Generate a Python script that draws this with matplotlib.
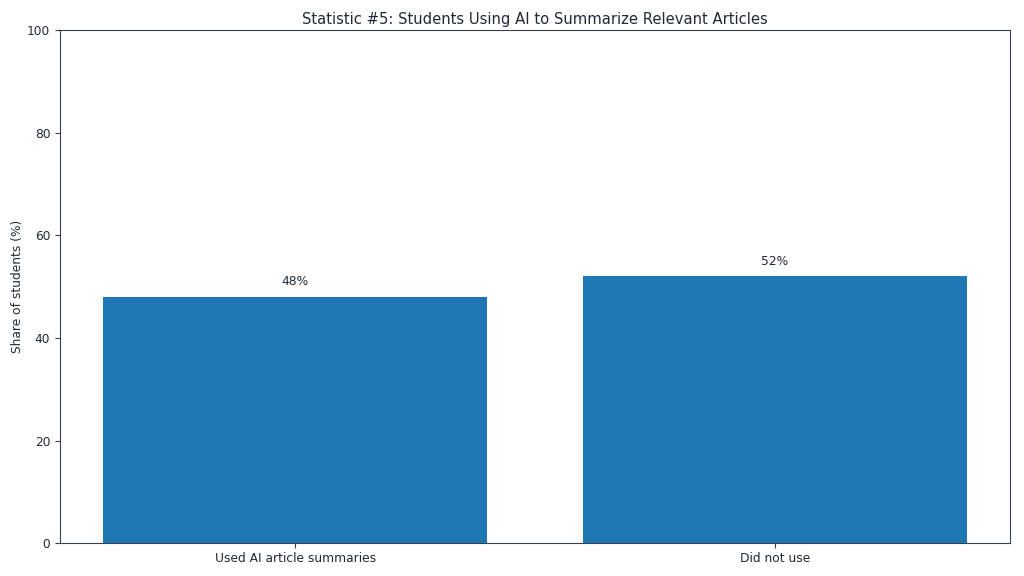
import numpy as np
from matplotlib import pyplot as plt

categories = ['Used AI article summaries', 'Did not use']
shares = [48, 52]
labels = ['48%', '52%']

text_col = '#1f2937'
spine_col = '#374151'

plt.rcParams['font.size'] = 8.8
plt.rcParams['text.color'] = text_col
plt.rcParams['axes.labelcolor'] = text_col
plt.rcParams['xtick.color'] = spine_col
plt.rcParams['ytick.color'] = spine_col
plt.rcParams['xtick.labelcolor'] = text_col
plt.rcParams['ytick.labelcolor'] = text_col
plt.rcParams['xtick.major.pad'] = 3

fig, ax = plt.subplots(figsize=(10.24, 5.76), dpi=100)
fig.subplots_adjust(left=0.0586, right=0.9863, top=0.948, bottom=0.057)

bars = ax.bar(categories, shares, color='#1f77b4', width=0.8)
for b, lab in zip(bars, labels):
	ax.annotate(lab, (b.get_x() + b.get_width() / 2., b.get_height()),
		xytext=(0, 6), textcoords='offset points', ha='center', va='bottom', fontsize=8.8)

ax.set_ylim(0, 100)
ax.set_ylabel('Share of students (%)', labelpad=2)
ax.set_title('Statistic #5: Students Using AI to Summarize Relevant Articles', fontsize=10.6, pad=4)
for s in ax.spines.values():
	s.set_color(spine_col)

fig.savefig('out.png', dpi=100)
